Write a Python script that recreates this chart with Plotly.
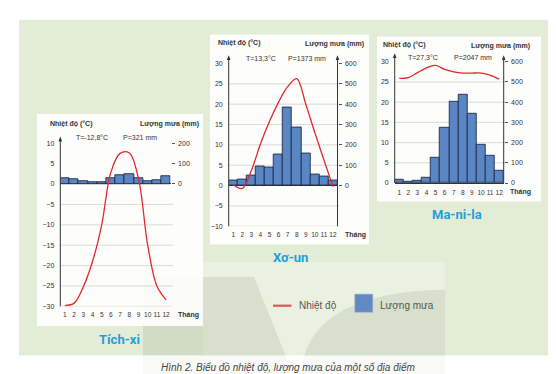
import plotly.graph_objects as go

W, H = 556, 374

# ---------------- data ----------------
months = list(range(1, 13))
month_labels = [str(m) for m in months]

tiksi_temp = [-29.8, -29.2, -25.2, -19, -10, 2.9, 7.5, 7.6, 1.3, -15, -25, -28.4]
tiksi_rain = [30, 22, 16, 11, 11, 26, 44, 49, 26, 14, 20, 39]

seoul_temp = [0.2, -0.7, 3.7, 10.2, 15.8, 20.5, 24.3, 26.3, 20, 13, 6.3, -0.3]
seoul_rain = [24, 29, 50, 96, 87, 153, 386, 283, 159, 53, 45, 24]

manila_temp = [25.9, 26.1, 27.3, 28.5, 29.1, 28.1, 27.5, 27.2, 27.2, 27.2, 26.7, 25.7]
manila_rain = [16, 6, 11, 24, 123, 272, 404, 438, 344, 191, 133, 60]

tiksi_temp_ticks = [10, 5, 0, -5, -10, -15, -20, -25, -30]
tiksi_rain_ticks = [0, 100, 200]
seoul_temp_ticks = [30, 25, 20, 15, 10, 5, 0, -5, -10]
seoul_rain_ticks = [0, 100, 200, 300, 400, 500, 600]
manila_temp_ticks = [30, 25, 20, 15, 10, 5, 0]
manila_rain_ticks = [0, 100, 200, 300, 400, 500, 600]

station_names = ["Tích-xi", "Xơ-un", "Ma-ni-la"]
stat_T = ["T=-12,8°C", "T=13,3°C", "T=27,3°C"]
stat_P = ["P=321 mm", "P=1373 mm", "P=2047 mm"]
left_title = "Nhiệt độ (°C)"
right_title = "Lượng mưa (mm)"
month_word = "Tháng"
legend_labels = ["Nhiệt độ", "Lượng mưa"]
caption = "Hình 2. Biểu đồ nhiệt độ, lượng mưa của một số địa điểm"

# ---------------- style ----------------
BAR = "#5b86c4"
BAR_LINE = "#1d2b48"
RED = "#e3262c"
TXT = "#333333"
GRID = "#d2d2d2"
CYAN = "#1e9fdc"
FONT = "Liberation Sans"


def X(px):
    return px / W


def Y(py):
    return 1 - py / H


panels = [
    dict(temp=tiksi_temp, rain=tiksi_rain, tt=tiksi_temp_ticks, rt=tiksi_rain_ticks,
         trange=[-30, 10], rrange=[-600, 200], xd=(52.3, 162.7), yd=(300.0, 133.7),
         grid=[-5, -10, -15, -20, -25, -30], zero=True, right_line=False,
         box=(29, 104, 195, 320), arrow_top_l=127, arrow_top_r=None,
         lt=(41, 114), rtit=(191.7, 114), T=(67, 128), P=(114, 128),
         thang=(180, 309), name=(111.7, 334)),
    dict(temp=seoul_temp, rain=seoul_rain, tt=seoul_temp_ticks, rt=seoul_rain_ticks,
         trange=[-10, 30], rrange=[-200, 600], xd=(220.7, 329.5), yd=(218.3, 52.5),
         grid=[25, 20, 15, 10, 5, -5, -10], zero=True, right_line=True,
         box=(202, 23, 361, 237), arrow_top_l=44, arrow_top_r=44,
         lt=(209, 32), rtit=(357, 33), T=(236.7, 47.3), P=(279, 47.3),
         thang=(347, 227), name=(282, 250)),
    dict(temp=manila_temp, rain=manila_rain, tt=manila_temp_ticks, rt=manila_rain_ticks,
         trange=[0, 30], rrange=[0, 600], xd=(386.7, 495.7), yd=(174.3, 50.7),
         grid=[25, 20, 15, 10, 5], zero=False, right_line=True,
         box=(369, 25, 533, 193), arrow_top_l=42, arrow_top_r=44,
         lt=(374, 34), rtit=(522.7, 35), T=(399, 46.7), P=(445, 46.7),
         thang=(512, 183.5), name=(448.6, 206.7)),
]

fig = go.Figure()
layout = dict(
    width=W, height=H, margin=dict(l=0, r=0, t=0, b=0),
    paper_bgcolor="#ffffff", plot_bgcolor="rgba(0,0,0,0)",
    showlegend=False, bargap=0, font=dict(family=FONT, color=TXT, size=7),
)

shapes = []
annotations = []

# ---------------- background ----------------
shapes.append(dict(type="rect", xref="paper", yref="paper", x0=X(11), x1=X(547), y0=Y(350), y1=Y(8),
                   fillcolor="#e3ecd6", line_width=0, layer="below"))
shapes.append(dict(type="rect", xref="paper", yref="paper", x0=X(195), x1=X(437), y0=Y(350), y1=Y(255),
                   fillcolor="rgba(255,255,255,0.28)", line_width=0, layer="below"))


def pth(points):
    s = ""
    for cmd, pts in points:
        s += cmd + " " + " ".join(f"{X(a):.5f},{Y(b):.5f}" for a, b in pts) + " "
    return s + "Z"


shapes.append(dict(type="path", xref="paper", yref="paper",
                   path=pth([("M", [(135, 374)]), ("L", [(135, 282)]), ("Q", [(135, 270), (147, 270)]),
                             ("L", [(246, 270)]), ("L", [(287, 374)])]),
                   fillcolor="rgba(120,135,105,0.16)", line_width=0, layer="below"))
shapes.append(dict(type="path", xref="paper", yref="paper",
                   path=pth([("M", [(292, 374)]), ("Q", [(296, 285), (437, 283)]),
                             ("L", [(437, 374)])]),
                   fillcolor="rgba(120,135,105,0.16)", line_width=0, layer="below"))
shapes.append(dict(type="rect", xref="paper", yref="paper", x0=0, x1=1, y0=0, y1=Y(350),
                   fillcolor="rgba(255,255,255,0.72)", line_width=0, layer="below"))

for i, p in enumerate(panels):
    xid = "x" if i == 0 else f"x{i + 1}"
    b = 2 * i + 1
    o = 2 * i + 2
    bid = "y" if b == 1 else f"y{b}"
    oid = f"y{o}"
    xd = [X(p["xd"][0]), X(p["xd"][1])]
    yd = [Y(p["yd"][0]), Y(p["yd"][1])]

    # white card
    x0, y0, x1, y1 = p["box"]
    shapes.append(dict(type="rect", xref="paper", yref="paper", x0=X(x0), x1=X(x1), y0=Y(y1), y1=Y(y0),
                       fillcolor="rgba(255,255,255,0.9)", line_width=0, layer="below"))

    layout["xaxis" if i == 0 else f"xaxis{i + 1}"] = dict(
        domain=xd, range=[0.5, 12.5], anchor=bid, tickvals=months, ticktext=month_labels,
        tickangle=0, showgrid=False, zeroline=False, showline=(i == 2), linecolor="#333", linewidth=1,
        ticks="", tickfont=dict(size=6.5, color=TXT, family=FONT), ticklabelstandoff=3,
        fixedrange=True)
    layout["yaxis" if b == 1 else f"yaxis{b}"] = dict(
        domain=yd, range=p["rrange"], side="right", anchor=xid, tickvals=p["rt"],
        showgrid=False, zeroline=False, showline=False, ticks="outside", ticklen=3,
        tickcolor="#555", tickwidth=1, tickfont=dict(size=7, color=TXT, family=FONT),
        ticklabelstandoff=2)
    layout[f"yaxis{o}"] = dict(
        overlaying=bid, range=p["trange"], side="left", anchor=xid, tickvals=p["tt"],
        showgrid=False, zeroline=p["zero"], zerolinecolor="#333", zerolinewidth=1,
        showline=False, ticks="", tickfont=dict(size=7, color=TXT, family=FONT),
        ticklabelstandoff=5)

    fig.add_trace(go.Bar(x=months, y=p["rain"], xaxis=xid, yaxis=bid,
                         marker=dict(color=BAR, line=dict(color=BAR_LINE, width=0.9))))
    fig.add_trace(go.Scatter(x=months, y=p["temp"], xaxis=xid, yaxis=oid, mode="lines",
                             line=dict(color=RED, width=1.3, shape="spline", smoothing=1.0)))

    # gridlines
    for g in p["grid"]:
        shapes.append(dict(type="line", xref=f"{xid} domain", yref=oid, x0=0, x1=1.02, y0=g, y1=g,
                           line=dict(color=GRID, width=0.8), layer="below"))

    # axis lines with arrows
    def vaxis(xp, ybot, ytop):
        shapes.append(dict(type="line", xref="paper", yref="paper", x0=X(xp), x1=X(xp),
                           y0=Y(ybot), y1=Y(ytop + 2), line=dict(color="#333", width=1), layer="above"))
        shapes.append(dict(type="path", xref="paper", yref="paper",
                           path=f"M {X(xp - 1.8):.5f},{Y(ytop + 5):.5f} L {X(xp):.5f},{Y(ytop):.5f} "
                                f"L {X(xp + 1.8):.5f},{Y(ytop + 5):.5f} Z",
                           fillcolor="#333", line_width=0, layer="above"))

    vaxis(p["xd"][0], p["yd"][0], p["arrow_top_l"])
    if p["right_line"]:
        vaxis(p["xd"][1], p["yd"][0], p["arrow_top_r"])

    def txt(t, xy, anchor, size=7, color=TXT, family=FONT):
        annotations.append(dict(text=t, xref="paper", yref="paper", x=X(xy[0]), y=Y(xy[1]),
                                xanchor=anchor, yanchor="middle", showarrow=False, borderpad=0,
                                font=dict(size=size, color=color, family=family)))

    txt(f"<b>{left_title}</b>", p["lt"], "left")
    txt(f"<b>{right_title}</b>", p["rtit"], "right")
    txt(stat_T[i], p["T"], "left")
    txt(stat_P[i], p["P"], "left")
    txt(f"<b>{month_word}</b>", p["thang"], "center")
    txt(f"<b>{station_names[i]}</b>", p["name"], "center", size=13, color=CYAN, family="Roboto")

# legend (manual)
shapes.append(dict(type="line", xref="paper", yref="paper", x0=X(265), x1=X(283.5), y0=Y(299.3), y1=Y(299.3),
                   line=dict(color="#e05555", width=2.2), layer="above"))
shapes.append(dict(type="rect", xref="paper", yref="paper", x0=X(346.8), x1=X(364.8), y0=Y(306), y1=Y(287.5),
                   fillcolor="#6189c2", line=dict(color="#9fb5d6", width=0.6), layer="above"))
annotations.append(dict(text=legend_labels[0], xref="paper", yref="paper", x=X(289.5), y=Y(299),
                        xanchor="left", yanchor="middle", showarrow=False, borderpad=0,
                        font=dict(size=10, color="#555", family=FONT)))
annotations.append(dict(text=legend_labels[1], xref="paper", yref="paper", x=X(370.6), y=Y(299),
                        xanchor="left", yanchor="middle", showarrow=False, borderpad=0,
                        font=dict(size=10, color="#555", family=FONT)))
annotations.append(dict(text=f"<i>{caption}</i>", xref="paper", yref="paper", x=X(280), y=Y(362.5),
                        xanchor="center", yanchor="middle", showarrow=False, borderpad=0,
                        font=dict(size=10, color="#444", family=FONT)))

layout["shapes"] = shapes
layout["annotations"] = annotations
fig.update_layout(**layout)
fig.write_html("out.html")
